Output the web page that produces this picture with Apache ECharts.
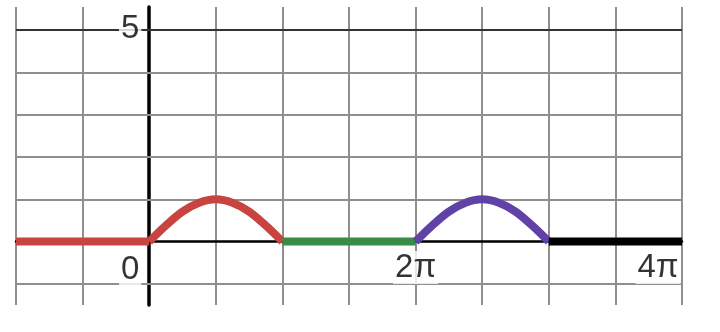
<!DOCTYPE html>
<html><head><meta charset="utf-8">
<script src="https://cdn.jsdelivr.net/npm/echarts@6/dist/echarts.min.js"></script>
<style>html,body{margin:0;padding:0;background:#fff}#c{width:720px;height:332px}</style>
</head><body><div id="c"></div>
<script>
// x values in radians, y values
const redFlatX  = [-3.1416, 0];
const redFlatY  = [0, 0];
const redX    = [0, 0.3927, 0.7854, 1.1781, 1.5708, 1.9635, 2.3562, 2.7489, 3.1416];
const redY    = [0, 0.38, 0.71, 0.92, 1.0, 0.92, 0.71, 0.38, 0];
const greenX  = [3.1416, 6.2832];
const greenY  = [0, 0];
const purpleX = [6.2832, 6.6759, 7.0686, 7.4613, 7.854, 8.2467, 8.6394, 9.0321, 9.4248];
const purpleY = [0, 0.38, 0.71, 0.92, 1.0, 0.92, 0.71, 0.38, 0];
const blackX  = [9.4248, 12.5664];
const blackY  = [0, 0];
const hGridY  = [-1, 1, 2, 3, 4];
const hDarkY  = [5];
const vDarkX  = [12.5664];
const labelX  = [0, 6.2832, 12.5664, 0];
const labelY  = [0, 0, 0, 5];
const labelText = ['0', '2π', '4π', '5'];

const zip = (xs, ys) => xs.map((x, i) => [x, ys[i]]);
const offsets = [[-19, 28], [0, 26], [-24, 26], [-19, -1]];

const chart = echarts.init(document.getElementById('c'));
const lineSeries = (xs, ys, color) => ({
  type: 'line', data: zip(xs, ys), smooth: 0.35, symbol: 'none', clip: true,
  lineStyle: { color, width: 8, cap: 'butt', join: 'round' }, z: 5
});
chart.setOption({
  animation: false,
  grid: { left: 16, right: 38, top: 7, bottom: 27 },
  xAxis: {
    type: 'value', min: -Math.PI, max: 4 * Math.PI, interval: Math.PI / 2,
    axisLine: { onZero: true, lineStyle: { color: '#000', width: 2.5 } },
    axisTick: { show: false }, axisLabel: { show: false },
    splitLine: { show: true, lineStyle: { color: '#8f8f8f', width: 2 } }
  },
  yAxis: {
    type: 'value', min: -1.5, max: 5.55,
    axisLine: { onZero: true, lineStyle: { color: '#000', width: 3.5 } },
    axisTick: { show: false }, axisLabel: { show: false },
    splitLine: { show: false }
  },
  series: [
    {
      type: 'line', data: [], z: 1,
      markLine: {
        silent: true, symbol: 'none', animation: false,
        label: { show: false },
        lineStyle: { color: '#8f8f8f', width: 2, type: 'solid' },
        data: hGridY.map(v => ({ yAxis: v }))
          .concat(hDarkY.map(v => ({ yAxis: v, lineStyle: { color: '#333', width: 2 } })))
          .concat(vDarkX.map(v => ({ xAxis: v, lineStyle: { color: '#333', width: 2.5 } })))
      }
    },
    lineSeries(redFlatX, redFlatY, '#c74440'),
    lineSeries(redX, redY, '#c74440'),
    lineSeries(greenX, greenY, '#388c46'),
    lineSeries(purpleX, purpleY, '#6042a6'),
    lineSeries(blackX, blackY, '#000000'),
    {
      type: 'scatter', symbolSize: 0, z: 10,
      data: labelX.map((x, i) => ({
        value: [x, labelY[i]],
        label: {
          show: true, position: 'inside', formatter: labelText[i],
          offset: offsets[i]
        }
      })),
      label: {
        fontFamily: 'Liberation Sans', fontSize: 33, color: '#000',
        backgroundColor: '#fff', padding: [0, 2]
      }
    }
  ]
});
</script></body></html>
